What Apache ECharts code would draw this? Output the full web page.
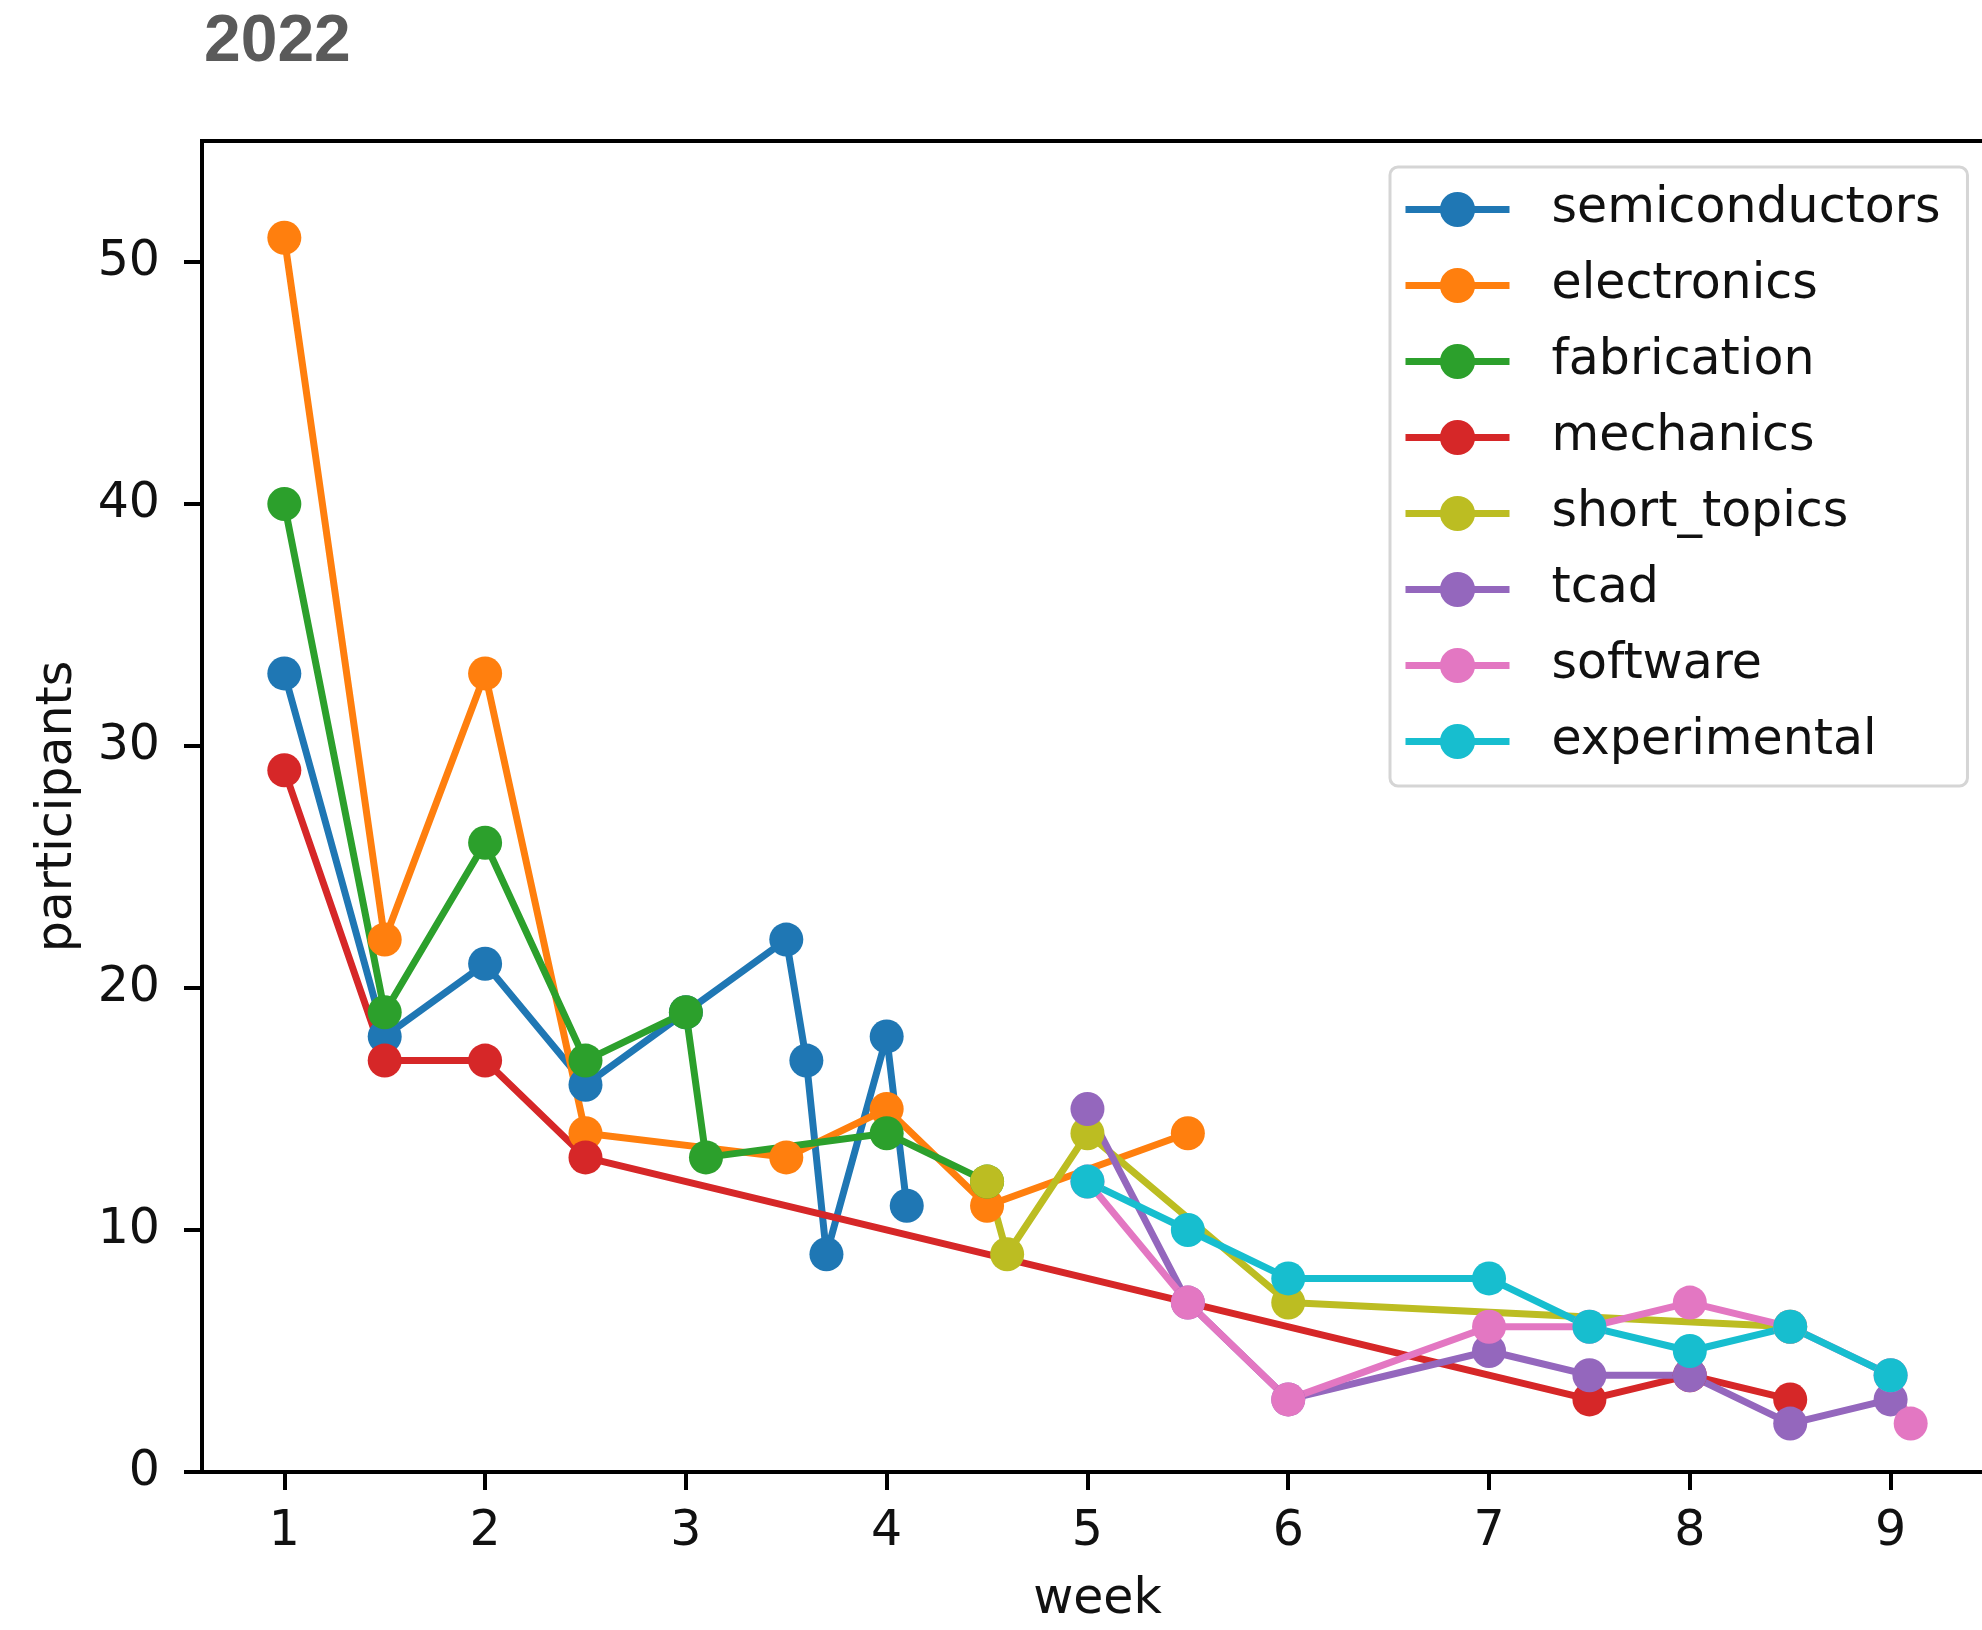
<!DOCTYPE html>
<html>
<head>
<meta charset="utf-8">
<script src="https://cdn.jsdelivr.net/npm/echarts@6/dist/echarts.min.js"></script>
<style>
html,body{margin:0;padding:0;background:#fff;overflow:hidden;}
#chart{width:2000px;height:1630px;}
</style>
</head>
<body>
<div id="chart"></div>
<script>
// ---- data ----
const weekTicks = [1, 2, 3, 4, 5, 6, 7, 8, 9];
const participantTicks = [0, 10, 20, 30, 40, 50];

const seriesNames = ['semiconductors', 'electronics', 'fabrication', 'mechanics',
                     'short_topics', 'tcad', 'software', 'experimental'];
const seriesColors = ['#1f77b4', '#ff7f0e', '#2ca02c', '#d62728',
                      '#bcbd22', '#9467bd', '#e377c2', '#17becf'];

const semiconductorsWeeks  = [1, 1.5, 2, 2.5, 3, 3.5, 3.6, 3.7, 4, 4.1];
const semiconductorsValues = [33, 18, 21, 16, 19, 22, 17, 9, 18, 11];

const electronicsWeeks  = [1, 1.5, 2, 2.5, 3.5, 4, 4.5, 5.5];
const electronicsValues = [51, 22, 33, 14, 13, 15, 11, 14];

const fabricationWeeks  = [1, 1.5, 2, 2.5, 3, 3.1, 4, 4.5];
const fabricationValues = [40, 19, 26, 17, 19, 13, 14, 12];

const mechanicsWeeks  = [1, 1.5, 2, 2.5, 7.5, 8, 8.5];
const mechanicsValues = [29, 17, 17, 13, 3, 4, 3];

const shortTopicsWeeks  = [4.5, 4.6, 5, 6, 8.5];
const shortTopicsValues = [12, 9, 14, 7, 6];

const tcadWeeks  = [5, 5.5, 6, 7, 7.5, 8, 8.5, 9];
const tcadValues = [15, 7, 3, 5, 4, 4, 2, 3];

const softwareWeeks  = [5, 5.5, 6, 7, 7.5, 8, 8.5, 9, 9.1];
const softwareValues = [12, 7, 3, 6, 6, 7, 6, 4, 2];

const experimentalWeeks  = [5, 5.5, 6, 7, 7.5, 8, 8.5, 9];
const experimentalValues = [12, 10, 8, 8, 6, 5, 6, 4];

const seriesWeeks  = [semiconductorsWeeks, electronicsWeeks, fabricationWeeks, mechanicsWeeks,
                      shortTopicsWeeks, tcadWeeks, softwareWeeks, experimentalWeeks];
const seriesValues = [semiconductorsValues, electronicsValues, fabricationValues, mechanicsValues,
                      shortTopicsValues, tcadValues, softwareValues, experimentalValues];

// ---- chart ----
const FONT = 'DejaVu Sans';
const TXT = '#111';
const chart = echarts.init(document.getElementById('chart'), null, {renderer: 'canvas'});

const series = seriesNames.map((name, i) => ({
  type: 'line',
  name: name,
  data: seriesWeeks[i].map((w, j) => [w, seriesValues[i][j]]),
  symbol: 'circle',
  symbolSize: 34,
  showAllSymbol: true,
  itemStyle: {color: seriesColors[i]},
  lineStyle: {color: seriesColors[i], width: 7},
  emphasis: {disabled: true},
  animation: false
}));

chart.setOption({
  animation: false,
  backgroundColor: '#fff',
  title: {
    text: '2022',
    left: 199,
    top: 5,
    textStyle: {fontSize: 66, fontWeight: 'bold', fontFamily: 'Liberation Sans', color: '#5a5a5a'}
  },
  grid: {
    left: 202, top: 141, width: 1791, height: 1332,
    show: true, borderColor: '#000', borderWidth: 4, backgroundColor: 'transparent'
  },
  xAxis: {
    type: 'value',
    min: 0.59, max: 9.51,
    name: 'week',
    nameLocation: 'middle',
    nameGap: 104,
    nameTextStyle: {fontSize: 49, fontFamily: FONT, color: TXT},
    axisLine: {show: true, onZero: false, lineStyle: {color: '#000', width: 4}},
    axisTick: {show: true, customValues: weekTicks, length: 18, lineStyle: {color: '#000', width: 4}},
    axisLabel: {customValues: weekTicks, margin: 36, fontSize: 49, fontFamily: FONT, color: TXT},
    splitLine: {show: false}
  },
  yAxis: {
    type: 'value',
    min: 0, max: 55,
    name: 'participants',
    nameLocation: 'middle',
    nameRotate: 90,
    nameGap: 119,
    nameTextStyle: {fontSize: 49, fontFamily: FONT, color: TXT},
    axisLine: {show: true, onZero: false, lineStyle: {color: '#000', width: 4}},
    axisTick: {show: true, customValues: participantTicks, length: 18, lineStyle: {color: '#000', width: 4}},
    axisLabel: {customValues: participantTicks, margin: 42, fontSize: 49, fontFamily: FONT, color: TXT},
    splitLine: {show: false}
  },
  legend: {
    orient: 'vertical',
    left: 1390,
    top: 167,
    data: seriesNames,
    itemWidth: 104,
    itemHeight: 44,
    itemGap: 27,
    padding: [18, 27, 20, 12],
    backgroundColor: '#fff',
    borderColor: '#d5d5d5',
    borderWidth: 3,
    borderRadius: 8,
    selectedMode: false,
    lineStyle: {width: 7},
    textStyle: {fontSize: 49, fontFamily: FONT, color: TXT, padding: [0, 0, 0, 37]}
  },
  series: series
});
</script>
</body>
</html>
